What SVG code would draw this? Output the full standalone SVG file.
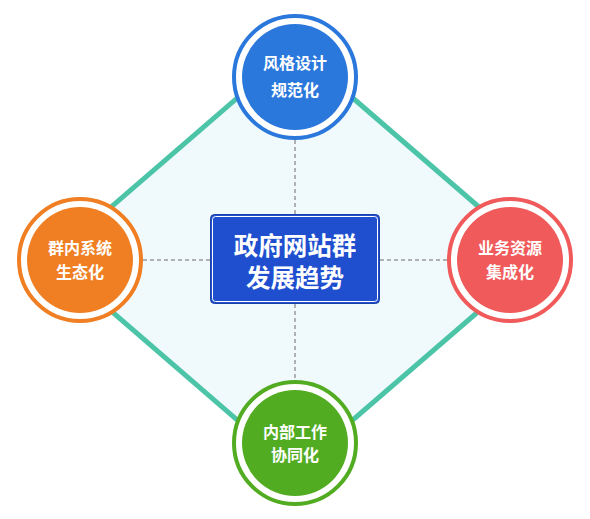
<svg xmlns="http://www.w3.org/2000/svg" width="590" height="519" viewBox="0 0 590 519">
<style>
.lbl{font-family:"Noto Sans CJK SC","Noto Sans",sans-serif;font-weight:bold;font-size:16px;fill:#fff;text-anchor:middle}
.ctr{font-family:"Noto Sans CJK SC","Noto Sans",sans-serif;font-weight:bold;font-size:24.5px;fill:#fff;text-anchor:middle}
.dash{stroke:#999;stroke-width:1.5;stroke-dasharray:4 3;fill:none}
.ring{fill:#fff;stroke-width:4}
</style>
<rect width="590" height="519" fill="#fff"/>
<g id="diamond">
<polygon points="295,48 539,259 295,470 51,259" fill="#f0fafd" stroke="#4cc4a8" stroke-width="5" stroke-linejoin="miter"/>
</g>
<g id="connectors">
<line class="dash" x1="295" y1="140" x2="295" y2="214"/>
<line class="dash" x1="295" y1="304" x2="295" y2="380"/>
<line class="dash" x1="143" y1="260" x2="210" y2="260"/>
<line class="dash" x1="380" y1="260" x2="447" y2="260"/>
</g>
<g id="center">
<rect x="210.5" y="214.5" width="169" height="89" rx="4" fill="#1f4fcf" stroke="#1a40a8" stroke-width="1"/>
<rect x="212.5" y="216.5" width="165" height="85" rx="3" fill="none" stroke="#fff" stroke-width="1"/>
<text class="ctr" x="295" y="255">政府网站群</text>
<text class="ctr" x="295" y="287">发展趋势</text>
</g>
<g id="top">
<circle class="ring" cx="295" cy="77" r="61" stroke="#2a78dc"/>
<circle cx="295" cy="77" r="53" fill="#2a78dc"/>
<text class="lbl" x="295" y="69">风格设计</text>
<text class="lbl" x="295" y="96">规范化</text>
</g>
<g id="left">
<circle class="ring" cx="80" cy="260" r="61" stroke="#f07e22"/>
<circle cx="80" cy="260" r="53" fill="#f07e22"/>
<text class="lbl" x="80" y="254">群内系统</text>
<text class="lbl" x="80" y="278">生态化</text>
</g>
<g id="right">
<circle class="ring" cx="510" cy="260" r="61" stroke="#f05a5a"/>
<circle cx="510" cy="260" r="53" fill="#f05a5a"/>
<text class="lbl" x="510" y="254">业务资源</text>
<text class="lbl" x="510" y="278">集成化</text>
</g>
<g id="bottom">
<circle class="ring" cx="295" cy="443" r="61" stroke="#52ac22"/>
<circle cx="295" cy="443" r="53" fill="#52ac22"/>
<text class="lbl" x="295" y="438">内部工作</text>
<text class="lbl" x="295" y="461">协同化</text>
</g>
</svg>
